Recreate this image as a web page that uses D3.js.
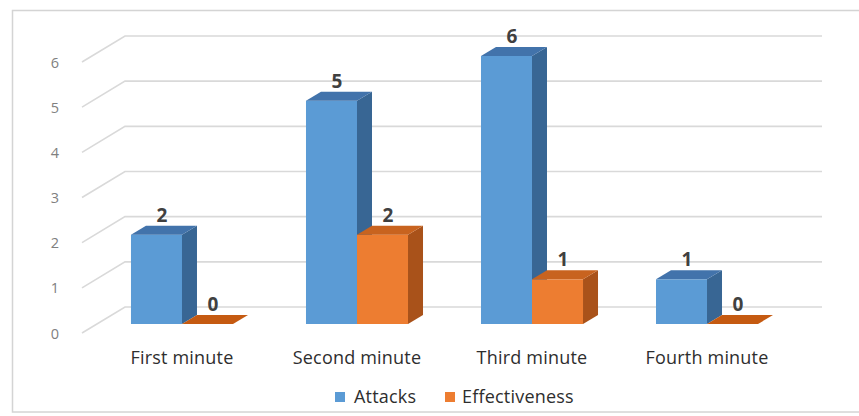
<!DOCTYPE html>
<html>
<head>
<meta charset="utf-8">
<script src="https://cdn.jsdelivr.net/npm/d3@7"></script>
<style>
  html, body { margin: 0; padding: 0; background: #fff; }
  svg { display: block; }
</style>
</head>
<body>
<svg id="chart" width="859" height="416"></svg>
<script>
// Chart data
const categories = ["First minute", "Second minute", "Third minute", "Fourth minute"];
const attacks = [2, 5, 6, 1];
const effectiveness = [0, 2, 1, 0];
const seriesNames = ["Attacks", "Effectiveness"];
const yTicks = [0, 1, 2, 3, 4, 5, 6];

const svg = d3.select("#chart");

// Outer frame
svg.append("rect")
  .attr("x", 12.5).attr("y", 10.5)
  .attr("width", 860).attr("height", 401.5)
  .attr("fill", "#fff").attr("stroke", "#d4d4d4").attr("stroke-width", 1.5);

// Scales: front face of bars, back wall for gridlines
const y = d3.scaleLinear().domain([0, 6]).range([324, 56]);
const yBack = d3.scaleLinear().domain([0, 6]).range([307, 36]);
const x = d3.scaleBand().domain(categories).range([58, 831]).padding(0.417);
const xs = d3.scaleBand().domain(seriesNames).range([0, x.bandwidth()]);

// depth offset of the 3D boxes
const dx = 15, dy = -9;
// floor diagonal of gridlines
const wallX0 = 82, wallX1 = 125, wallRight = 822, floorDy = 26;

// Gridlines: diagonal side-wall segment + horizontal back-wall line
const grid = svg.append("g").attr("stroke", "#d9d9d9").attr("stroke-width", 1.6).attr("fill", "none");
yTicks.forEach(v => {
  const yb = yBack(v);
  grid.append("path")
    .attr("d", `M${wallX0},${yb + floorDy} L${wallX1},${yb} L${wallRight},${yb}`);
});

// Y tick labels
svg.append("g").selectAll("text").data(yTicks).join("text")
  .attr("x", 55).attr("y", v => yBack(v) + floorDy + 5.5)
  .attr("text-anchor", "middle")
  .attr("font-family", "Open Sans, sans-serif")
  .attr("font-size", 14.5)
  .attr("fill", "#808080")
  .text(v => v);

const colors = {
  Attacks: { front: "#5b9bd5", top: "#4273ab", side: "#386694" },
  Effectiveness: { front: "#ed7d31", top: "#c8631f", side: "#a9521a" }
};

const bars = svg.append("g");
categories.forEach((cat, i) => {
  const vals = { Attacks: attacks[i], Effectiveness: effectiveness[i] };
  seriesNames.forEach(s => {
    const v = vals[s];
    const x0 = x(cat) + xs(s);
    const x1 = x0 + xs.bandwidth();
    const yt = y(v), yb = y(0);
    const c = colors[s];
    const g = bars.append("g");
    if (v > 0) {
      g.append("rect").attr("x", x0).attr("y", yt).attr("width", x1 - x0).attr("height", yb - yt)
        .attr("fill", c.front);
      g.append("path")
        .attr("d", `M${x1},${yt} L${x1 + dx},${yt + dy} L${x1 + dx},${yb + dy} L${x1},${yb} Z`)
        .attr("fill", c.side);
    }
    g.append("path")
      .attr("d", `M${x0},${yt} L${x0 + dx},${yt + dy} L${x1 + dx},${yt + dy} L${x1},${yt} Z`)
      .attr("fill", v > 0 ? c.top : "#c55a11");
    // value label
    g.append("text")
      .attr("x", (x0 + x1) / 2 + dx / 2 - 2)
      .attr("y", yt + dy - 4)
      .attr("text-anchor", "middle")
      .attr("font-family", "Open Sans, sans-serif")
      .attr("font-weight", "bold")
      .attr("font-size", 19)
      .attr("fill", "#404040")
      .text(v);
  });
});

// Category labels
svg.append("g").selectAll("text").data(categories).join("text")
  .attr("x", d => x(d) + x.bandwidth() / 2)
  .attr("y", 364)
  .attr("text-anchor", "middle")
  .attr("font-family", "Open Sans, sans-serif")
  .attr("font-size", 18)
  .attr("letter-spacing", 0.2)
  .attr("fill", "#2e2e2e")
  .text(d => d);

// Legend
const legendItems = [
  { name: "Attacks", sx: 335, tx: 354 },
  { name: "Effectiveness", sx: 445, tx: 462 }
];
const lg = svg.append("g");
legendItems.forEach(it => {
  lg.append("rect").attr("x", it.sx).attr("y", 392).attr("width", 10).attr("height", 10)
    .attr("fill", colors[it.name].front);
  lg.append("text").attr("x", it.tx).attr("y", 403)
    .attr("font-family", "Open Sans, sans-serif")
    .attr("font-size", 18)
    .attr("letter-spacing", 0.2)
    .attr("fill", "#2e2e2e")
    .text(it.name);
});
</script>
</body>
</html>
